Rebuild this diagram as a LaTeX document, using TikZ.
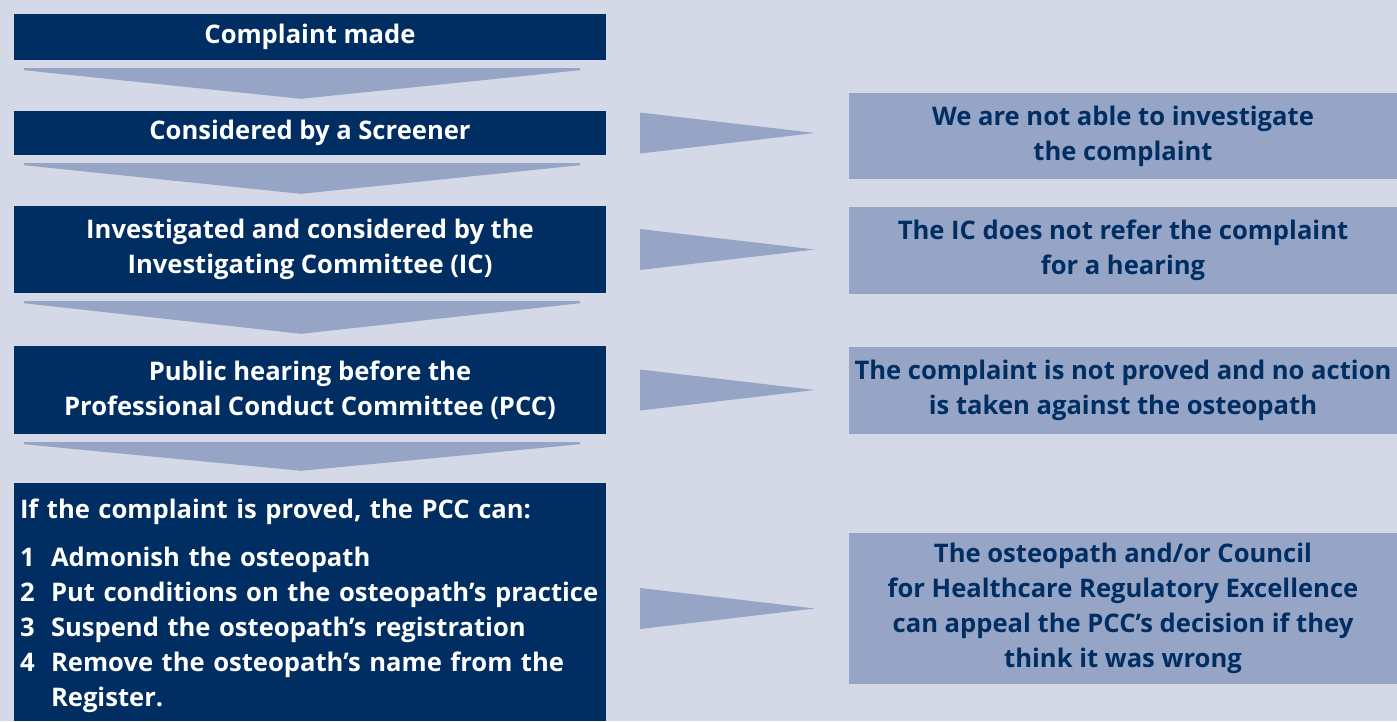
\documentclass[tikz,border=0pt]{standalone}
\usepackage{fontspec}
\setmainfont{Open Sans}
\usetikzlibrary{calc}
\definecolor{pagebg}{RGB}{212,216,231}
\definecolor{navy}{RGB}{0,46,98}
\definecolor{steel}{RGB}{150,165,198}
\tikzset{
  stagebox/.style={fill=navy, text=white, inner sep=0pt, minimum width=592,
    align=center, font=\bfseries\fontsize{25.6}{35}\selectfont},
  outcomebox/.style={fill=steel, text=navy, inner sep=0pt, minimum width=548,
    align=center, font=\bfseries\fontsize{25.6}{35}\selectfont},
  listtext/.style={text=white, inner sep=0pt, text width=580, align=left,
    font=\bfseries\fontsize{25.6}{35}\selectfont},
  flowarrow/.style={fill=steel},
}
\begin{document}
\begin{tikzpicture}[x=1pt,y=-1pt]
  \fill[pagebg] (0,0) rectangle (1397,721);
  \useasboundingbox (0,0) rectangle (1397,721);

  % main stages, top to bottom
  \node[stagebox, minimum height=46] (s1) at (310,37) {Complaint made};
  \node[stagebox, minimum height=44] (s2) at (310,133) {Considered by a Screener};
  \node[stagebox, minimum height=87] (s3) at (310,249.5)
    {Investigated and considered by the\\Investigating Committee (IC)};
  \node[stagebox, minimum height=88] (s4) at (310,390)
    {Public hearing before the\\Professional Conduct Committee (PCC)};
  \node[stagebox, minimum height=238] (s5) at (310,602) {};
  \node[listtext, anchor=base west] (s5list) at ($(s5.north west)+(6,36)$)
    {If the complaint is proved, the PCC can:\\[13pt]
     \makebox[31pt][l]{1}Admonish the osteopath\\
     \makebox[31pt][l]{2}Put conditions on the osteopath’s practice\\
     \makebox[31pt][l]{3}Suspend the osteopath’s registration\\
     \makebox[31pt][l]{4}Remove the osteopath’s name from the\\
     \hspace*{31pt}Register.};

  % outcomes on the right
  \node[outcomebox, minimum height=86] (o1) at (1123,136)
    {We are not able to investigate\\the complaint};
  \node[outcomebox, minimum height=87] (o2) at (1123,250)
    {The IC does not refer the complaint\\for a hearing};
  \node[outcomebox, minimum height=87] (o3) at (1123,390)
    {The complaint is not proved and no action\\is taken against the osteopath};
  \node[outcomebox, minimum height=151] (o4) at (1123,608.5)
    {The osteopath and/or Council\\for Healthcare Regulatory Excellence\\can appeal the PCC’s decision if they\\think it was wrong};

  % downward chevrons between stages
  \foreach \a/\b in {s1/s2, s2/s3, s3/s4, s4/s5}{
    \fill[flowarrow] ($(\a.south west)+(10,8)$) -- ($(\a.south east)+(-26,8)$)
      -- ($(\a.south east)+(-26,10)$) -- ($(\b.north)+(-9,-12)$)
      -- ($(\a.south west)+(10,10)$) -- cycle;
  }

  % side arrows towards the outcomes
  \foreach \a/\b in {s2/o1, s3/o2, s4/o3}{
    \fill[flowarrow] ($(\a.east)+(34,-20.5)$) -- ($(\a.east -| \b.west)+(-34,0)$)
      -- ($(\a.east)+(34,20.5)$) -- cycle;
  }
  \fill[flowarrow] ($(o4.west -| s5.east)+(34,-20.5)$) -- ($(o4.west)+(-34,0)$)
    -- ($(o4.west -| s5.east)+(34,20.5)$) -- cycle;
\end{tikzpicture}
\end{document}
